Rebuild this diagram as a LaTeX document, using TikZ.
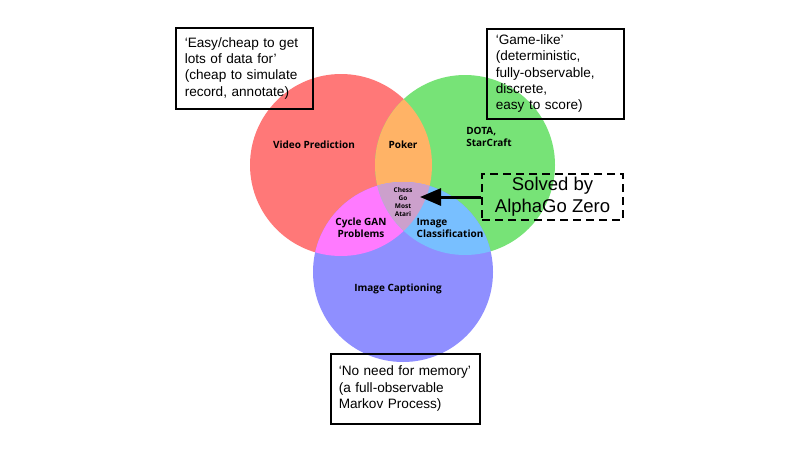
\documentclass[tikz,border=0pt]{standalone}
\usepackage{fontspec}
\setmainfont{Liberation Sans}
\newfontfamily\vennfont{Open Sans}
\usetikzlibrary{arrows.meta}
\definecolor{redc}{HTML}{FF7878}
\definecolor{greenc}{HTML}{77E377}
\definecolor{bluec}{HTML}{8F8FFF}
\definecolor{orangec}{HTML}{FFB366}
\definecolor{magc}{HTML}{FF7AFF}
\definecolor{lbluec}{HTML}{78BFFF}
\definecolor{centc}{HTML}{CCA0CC}
\tikzset{
  notebox/.style={draw=black, line width=1.5pt, anchor=north west, align=left, inner xsep=9pt, inner ysep=0pt,
    font=\fontsize{13.6}{16.3}\selectfont},
  vlabel/.style={font=\vennfont\bfseries\fontsize{10}{12}\selectfont, align=center, inner sep=0pt},
}
\begin{document}
\begin{tikzpicture}[x=1pt,y=-1pt]
\useasboundingbox (0,0) rectangle (800,450);
\fill[white] (0,0) rectangle (800,450);
\coordinate (R) at (341,165);
\coordinate (G) at (465,165);
\coordinate (B) at (403,272);
\def\rc{(R) circle[radius=91pt]}
\def\gc{(G) circle[radius=90pt]}
\def\bc{(B) circle[radius=90pt]}
\fill[redc] \rc;
\fill[greenc] \gc;
\fill[bluec] \bc;
\begin{scope}\clip \rc; \fill[orangec] \gc; \end{scope}
\begin{scope}\clip \rc; \fill[magc] \bc; \end{scope}
\begin{scope}\clip \gc; \fill[lbluec] \bc; \end{scope}
\begin{scope}\clip \rc; \clip \gc; \fill[centc] \bc; \end{scope}

\node[vlabel] (vp) at (314,145) {Video Prediction};
\node[vlabel] (pk) at (403,145) {Poker};
\node[vlabel, align=left] (dota) at (489,137) {DOTA,\\StarCraft};
\node[vlabel, font=\vennfont\bfseries\fontsize{6.5}{7.8}\selectfont] (chess) at (403,202) {Chess\\Go\\Most\\Atari};
\node[vlabel] (cyc) at (361,228) {Cycle GAN\\Problems};
\node[vlabel, align=left] (ic) at (450,228) {Image\\Classification};
\node[vlabel] (cap) at (398,289) {Image Captioning};

\node[notebox, minimum width=137pt, minimum height=81pt, text width=119pt] (b1) at (175,27)
  {\raisebox{-3pt}{}`Easy/cheap to get\\lots of data for'\\(cheap to simulate\\record, annotate)};
\node[notebox, minimum width=137pt, minimum height=90pt, text width=119pt] (b2) at (486,28)
  {`Game-like'\\(deterministic,\\fully-observable,\\discrete,\\easy to score)};
\node[notebox, minimum width=149pt, minimum height=70pt, text width=133pt, inner xsep=8pt] (b3) at (330,353)
  {`No need for memory'\\(a full-observable\\Markov Process)};
\node[draw=black, line width=2pt, dash pattern=on 8pt off 5pt, anchor=north west,
  minimum width=141pt, minimum height=46pt, inner sep=0pt, align=center,
  font=\fontsize{18.5}{22}\selectfont] (sv) at (481,173) {Solved by\\AlphaGo Zero};
\coordinate (tip) at (420,197);
\draw[line width=3pt, -{Triangle[length=21pt,width=17pt]}] (sv.west) -- (tip);
\end{tikzpicture}
\end{document}
